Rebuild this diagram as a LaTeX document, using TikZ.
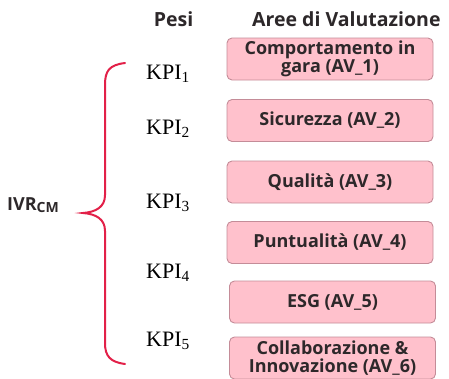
\documentclass[tikz,border=0pt]{standalone}
\usepackage{fontspec}
\setmainfont{Liberation Serif}
\setsansfont{Open Sans}
\definecolor{areapink}{RGB}{255,193,204}
\definecolor{areaborder}{RGB}{196,140,152}
\definecolor{bracered}{RGB}{226,32,72}
\definecolor{darktext}{RGB}{45,40,42}

\begin{document}
\begin{tikzpicture}[x=1pt,y=-1pt]
    \tikzstyle{area}=[draw=areaborder,fill=areapink,rounded corners=5pt,line width=0.9pt,minimum width=206pt,minimum height=42pt,align=center,inner sep=1pt,text=darktext,font=\sffamily\bfseries\fontsize{18}{17.5}\selectfont]
    \tikzstyle{kpi}=[anchor=base west,inner sep=0pt,font=\fontsize{22}{24}\selectfont]
    \tikzstyle{head}=[anchor=base,inner sep=0pt,text=darktext,font=\sffamily\bfseries\fontsize{19.5}{20}\selectfont]
    \tikzstyle{brace}=[draw=bracered,line width=2pt,line cap=round]

    \def\bx{330}
    \def\bxb{332.5}
    \def\kx{146}

    \useasboundingbox (0,0) rectangle (449,378);

    % column headings
    \node[head]  (pesi) at (173.5,26) {Pesi};
    \node[head,anchor=base west]  (aree) at (252,26) {Aree di Valutazione};

    % valuation areas
    \node[area]  (av1) at (\bx,59) {Comportamento in\\gara (AV\_1)};
    \node[area]  (av2) at (\bx,120.5) {Sicurezza (AV\_2)};
    \node[area]  (av3) at (\bx,182) {Qualità (AV\_3)};
    \node[area]  (av4) at (\bx,242.5) {Puntualità (AV\_4)};
    \node[area]  (av5) at (\bxb,302) {ESG (AV\_5)};
    \node[area]  (av6) at (\bxb,358) {Collaborazione \&\\Innovazione (AV\_6)};

    % weights
    \node[kpi]  (k1) at (\kx,79) {KPI\textsubscript{1}};
    \node[kpi]  (k2) at (\kx,134) {KPI\textsubscript{2}};
    \node[kpi]  (k3) at (\kx,208) {KPI\textsubscript{3}};
    \node[kpi]  (k4) at (\kx,278) {KPI\textsubscript{4}};
    \node[kpi]  (k5) at (\kx,346) {KPI\textsubscript{5}};

    % index and brace
    \node[anchor=base west,inner sep=0pt,text=darktext,font=\sffamily\bfseries\fontsize{18}{18}\selectfont]  (ivr) at (7,210) {IVR{\fontsize{14}{14}\selectfont\raisebox{-2.5pt}{CM}}};

   \draw [brace] (125,63) .. controls (109,65) and (105,71) .. (105,85) -- (105,195)
        .. controls (105,207) and (96,212) .. (83,213)
        .. controls (96,214) and (105,219) .. (105,231) -- (105,343)
        .. controls (105,356) and (110,362) .. (125,364);

\end{tikzpicture}
\end{document}
